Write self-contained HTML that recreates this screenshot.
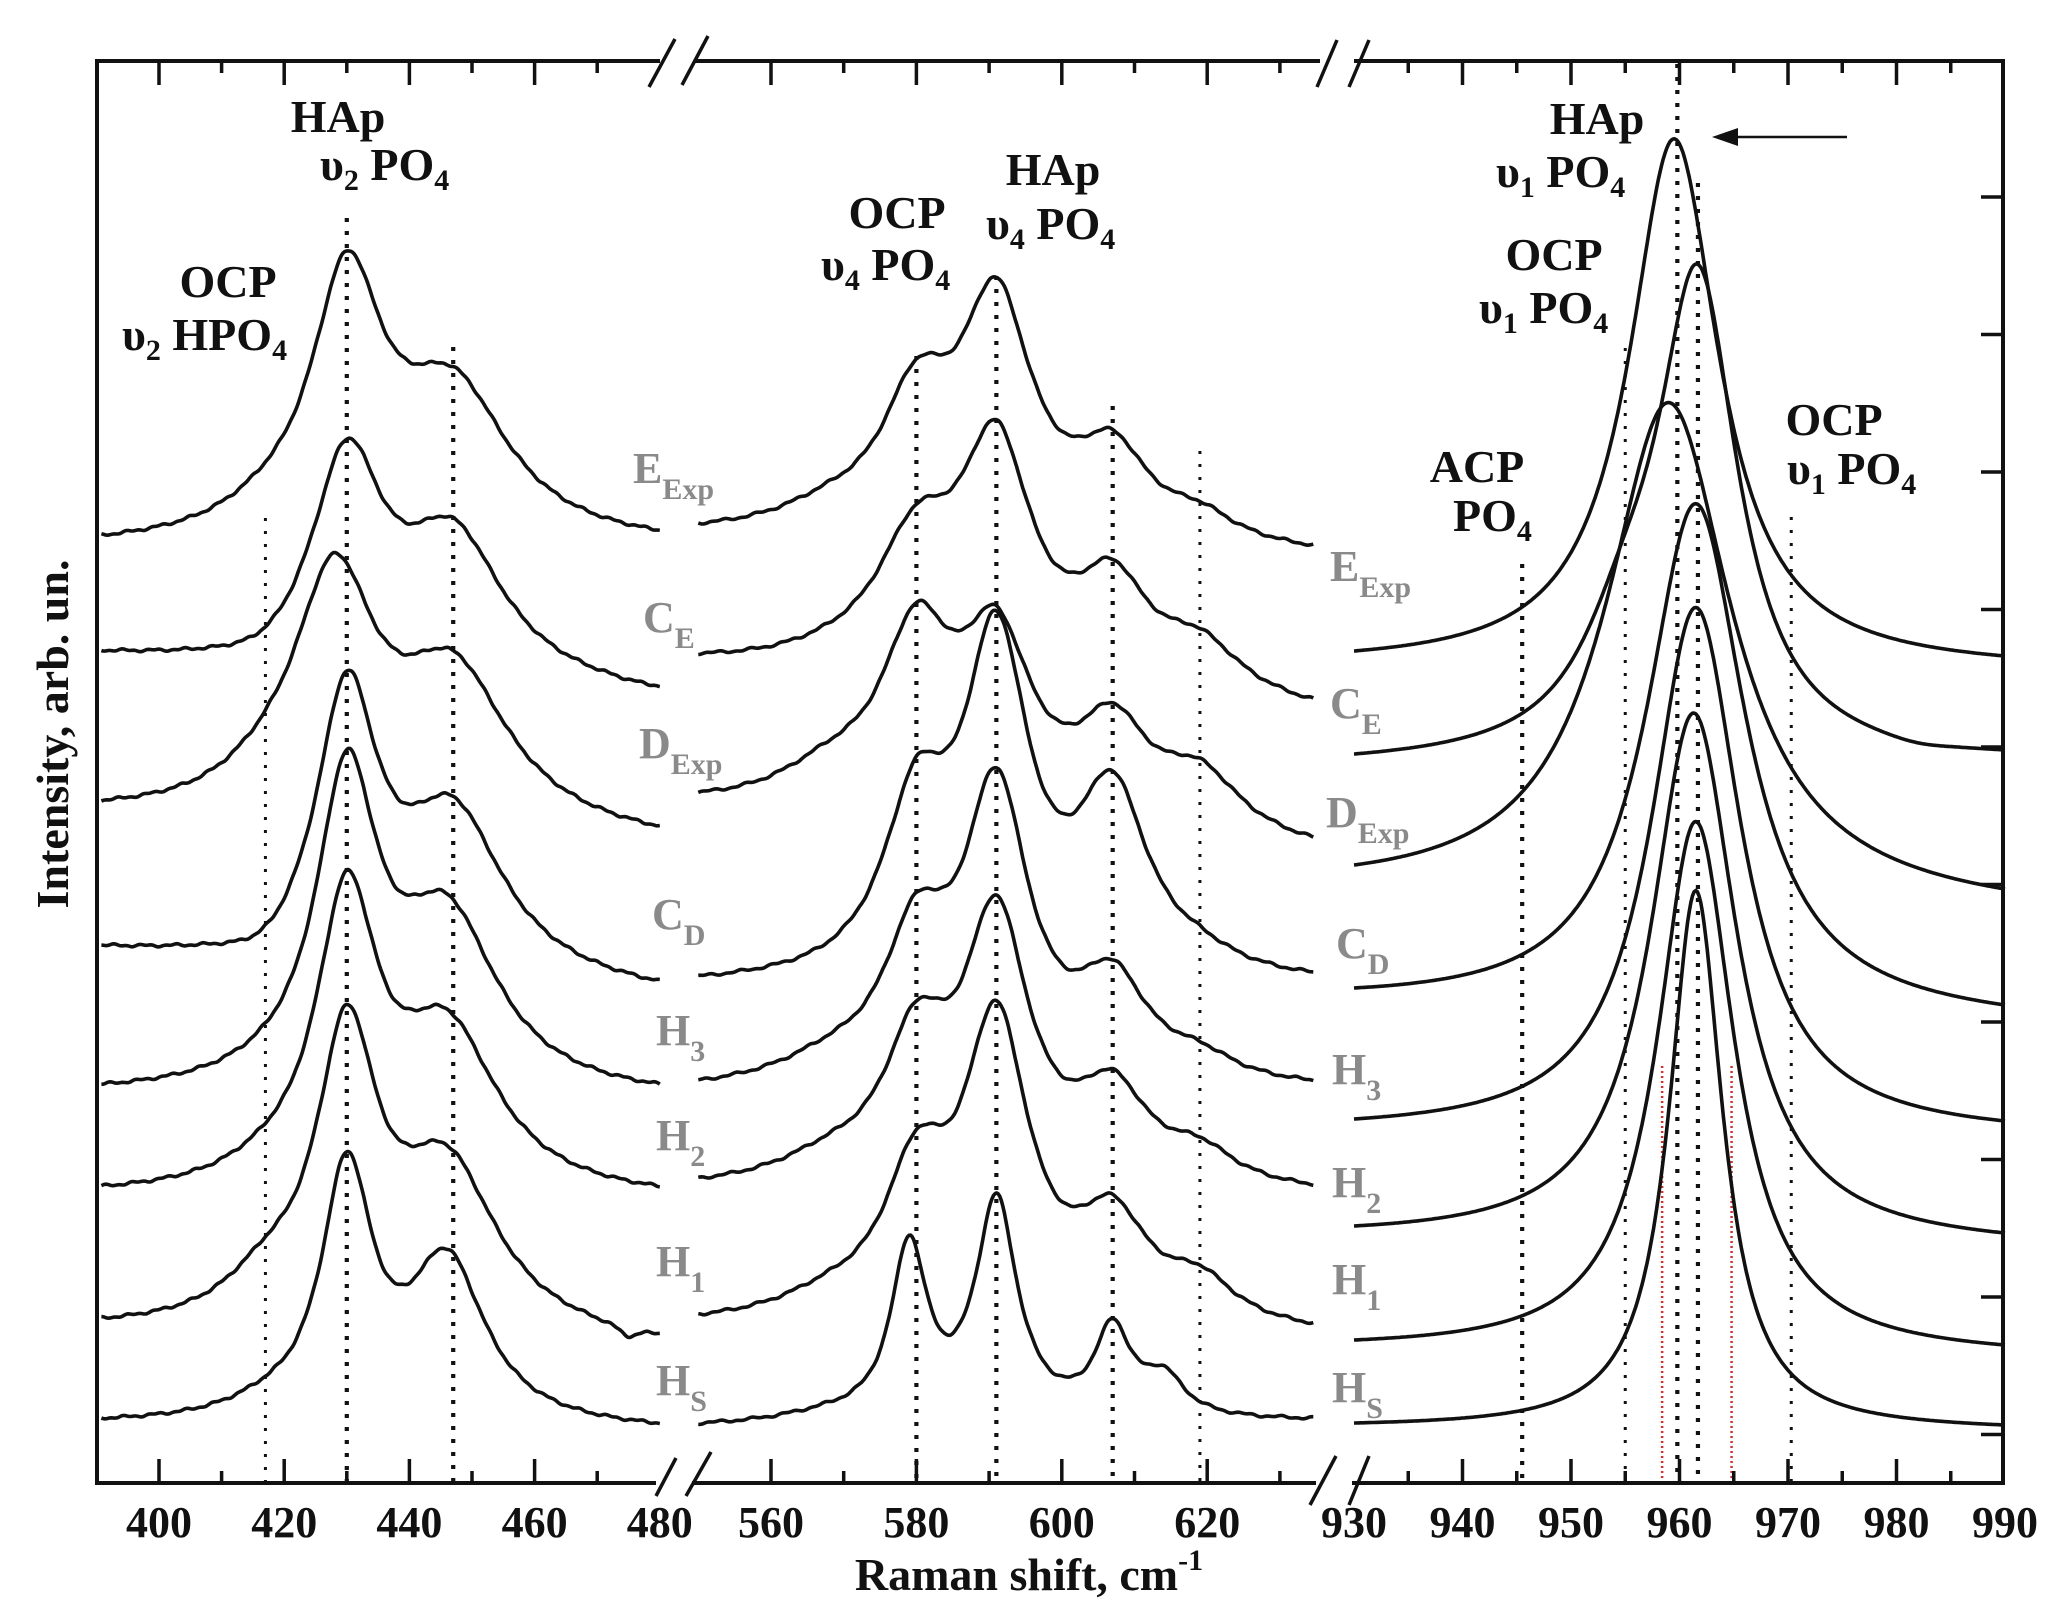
<!DOCTYPE html>
<html><head><meta charset="utf-8"><style>
html,body{margin:0;padding:0;background:#fff}
svg{display:block}
text{font-family:"Liberation Serif",serif;font-weight:bold}
.lab{font-size:46px;fill:#111}
.g{font-size:44px;fill:#8a8a8a}
.gs{font-size:30px;fill:#8a8a8a}
.tk{font-size:44px;fill:#111}
</style></head><body>
<svg id="s" width="2056" height="1612" viewBox="0 0 2056 1612" xmlns="http://www.w3.org/2000/svg">
<rect width="2056" height="1612" fill="#fff"/>
<g id="dots"></g>
<g id="curves" fill="none" stroke="#111" stroke-width="3.6" stroke-linejoin="round"></g>
<g id="axes" stroke="#111" stroke-width="4" fill="none"></g>
<text class="lab" x="338" y="132" text-anchor="middle">HAp</text>
<text class="lab" x="320" y="180">υ<tspan font-size="30" dy="10">2</tspan><tspan dy="-10"> PO</tspan><tspan font-size="30" dy="10">4</tspan></text>
<text class="lab" x="228" y="297" text-anchor="middle">OCP</text>
<text class="lab" x="122" y="350">υ<tspan font-size="30" dy="10">2</tspan><tspan dy="-10"> HPO</tspan><tspan font-size="30" dy="10">4</tspan></text>
<text class="lab" x="1053" y="185" text-anchor="middle">HAp</text>
<text class="lab" x="986" y="239">υ<tspan font-size="30" dy="10">4</tspan><tspan dy="-10"> PO</tspan><tspan font-size="30" dy="10">4</tspan></text>
<text class="lab" x="897" y="228" text-anchor="middle">OCP</text>
<text class="lab" x="821" y="280">υ<tspan font-size="30" dy="10">4</tspan><tspan dy="-10"> PO</tspan><tspan font-size="30" dy="10">4</tspan></text>
<text class="lab" x="1597" y="134" text-anchor="middle">HAp</text>
<text class="lab" x="1496" y="187">υ<tspan font-size="30" dy="10">1</tspan><tspan dy="-10"> PO</tspan><tspan font-size="30" dy="10">4</tspan></text>
<text class="lab" x="1554" y="270" text-anchor="middle">OCP</text>
<text class="lab" x="1479" y="323">υ<tspan font-size="30" dy="10">1</tspan><tspan dy="-10"> PO</tspan><tspan font-size="30" dy="10">4</tspan></text>
<text class="lab" x="1834" y="435" text-anchor="middle">OCP</text>
<text class="lab" x="1787" y="484">υ<tspan font-size="30" dy="10">1</tspan><tspan dy="-10"> PO</tspan><tspan font-size="30" dy="10">4</tspan></text>
<text class="lab" x="1477" y="482" text-anchor="middle">ACP</text>
<text class="lab" x="1453" y="531">PO<tspan font-size="30" dy="10">4</tspan></text>
<line x1="1847" y1="137" x2="1722" y2="137" stroke="#111" stroke-width="2.5"/>
<polygon points="1712,137 1738,128 1738,146" fill="#111"/>
<text class="g" x="633" y="483">E<tspan class="gs" dy="16">Exp</tspan></text>
<text class="g" x="643" y="632">C<tspan class="gs" dy="16">E</tspan></text>
<text class="g" x="639" y="758">D<tspan class="gs" dy="16">Exp</tspan></text>
<text class="g" x="652" y="929">C<tspan class="gs" dy="16">D</tspan></text>
<text class="g" x="656" y="1045">H<tspan class="gs" dy="16">3</tspan></text>
<text class="g" x="656" y="1150">H<tspan class="gs" dy="16">2</tspan></text>
<text class="g" x="656" y="1276">H<tspan class="gs" dy="16">1</tspan></text>
<text class="g" x="656" y="1395">H<tspan class="gs" dy="16">S</tspan></text>
<text class="g" x="1330" y="581">E<tspan class="gs" dy="16">Exp</tspan></text>
<text class="g" x="1330" y="718">C<tspan class="gs" dy="16">E</tspan></text>
<text class="g" x="1326" y="827">D<tspan class="gs" dy="16">Exp</tspan></text>
<text class="g" x="1336" y="958">C<tspan class="gs" dy="16">D</tspan></text>
<text class="g" x="1332" y="1084">H<tspan class="gs" dy="16">3</tspan></text>
<text class="g" x="1332" y="1197">H<tspan class="gs" dy="16">2</tspan></text>
<text class="g" x="1332" y="1294">H<tspan class="gs" dy="16">1</tspan></text>
<text class="g" x="1332" y="1402">H<tspan class="gs" dy="16">S</tspan></text>
<g id="ticklabels"></g>
<text class="lab" x="1029" y="1590" text-anchor="middle" font-size="48">Raman shift, cm<tspan font-size="30" dy="-20">-1</tspan></text>
<text class="lab" transform="translate(68,734) rotate(-90)" text-anchor="middle" font-size="48">Intensity, arb. un.</text>
</svg>
<script>
var NS="http://www.w3.org/2000/svg";
function el(p,tag,a){var e=document.createElementNS(NS,tag);for(var k in a)e.setAttribute(k,a[k]);p.appendChild(e);return e;}
var P=[{m:function(v){return 159+(v-400)*6.26},v0:390.8,v1:480},
       {m:function(v){return 771+(v-560)*7.27},v0:550,v1:634.6},
       {m:function(v){return 1354+(v-930)*10.85},v0:930,v1:990}];
function L(v,c,g){var d=(v-c)/g;return 1/(1+d*d);}
function solve(M,b){var n=b.length,A=M.map(function(r,i){return r.concat([b[i]])});
 for(var i=0;i<n;i++){var p=i;for(var r=i+1;r<n;r++)if(Math.abs(A[r][i])>Math.abs(A[p][i]))p=r;var t=A[i];A[i]=A[p];A[p]=t;
  for(var r=0;r<n;r++){if(r==i)continue;var f=A[r][i]/A[i][i];for(var c=i;c<=n;c++)A[r][c]-=f*A[i][c];}}
 return A.map(function(r,i){return r[n]/r[i]});}
var C=[
 [0,535,530,[[417,88,9],[430,299,7],[447,183,11]]],
 [0,650,686,[[417,45,9],[430,239,7],[447,167,10],[476,18,3]]],
 [0,800,826,[[417,116,9],[428,276,8],[447,185,11]]],
 [0,945,981,[[417,41,8],[430,303,6],[447,185,10]]],
 [0,1084,1084,[[417,75,8],[430,349,6],[446,206,10]]],
 [0,1186,1186,[[417,77,8],[430,329,6],[446,192,10]]],
 [0,1318,1333,[[417,101,8],[430,335,6],[446,198,10],[475,12,2]]],
 [0,1418,1423,[[417,52,8],[430,278,5],[446,182,7.5]]],
 [1,523,545,[[568,60,9],[580,186,6],[591,270,6],[607,121,6],[619,53,6]]],
 [1,653,699,[[568,55,9],[580,181,7],[591,271,6],[607,142,6],[619,80,7]]],
 [1,792,837,[[568,80,9],[580,224,6],[591,226,6],[607,139,6],[619,89,7]]],
 [1,976,972,[[568,48,9],[580,231,5.5],[591,378,5.5],[607,218,6],[619,62,6]]],
 [1,1080,1080,[[568,60,9],[580,201,5.5],[591,327,5.5],[607,134,6],[619,52,6]]],
 [1,1178,1184,[[568,60,9],[580,194,5.5],[591,300,5.5],[607,126,6],[619,60,6]]],
 [1,1314,1323,[[568,60,9],[580,203,5.5],[591,333,5.5],[607,140,6],[619,72,6]]],
 [1,1423,1418,[[568,25,9],[579,192,3],[591,232,3.5],[607,106,3],[614,58,3.5]]],
 [2,651,656,[[959.5,529,5]]],
 [2,754,750,[[955,232,5],[961.7,500,4.5],[982,20,4]]],
 [2,865,889,[[959,500,7]]],
 [2,988,1005,[[961.5,510,5.5]]],
 [2,1119,1121,[[961.5,527,5]]],
 [2,1226,1233,[[961.3,530,4.8]]],
 [2,1340,1345,[[961.5,532,4.3]]],
 [2,1423,1425,[[961.5,539,3]]]
];
var cg=document.getElementById("curves");
C.forEach(function(cv,ci){
 var p=P[cv[0]],pk=cv[3];
 var M=pk.map(function(a){return pk.map(function(b){return L(a[0],b[0],b[2])})});
 var amp=solve(M,pk.map(function(a){return a[1]}));
 function S(v){var s=0;for(var j=0;j<pk.length;j++)s+=amp[j]*L(v,pk[j][0],pk[j][2]);return s;}
 var s0=S(p.v0),s1=S(p.v1),d="",N=400;
 for(var i=0;i<=N;i++){var v=p.v0+(p.v1-p.v0)*i/N,t=i/N;
  var base=cv[1]+(cv[2]-cv[1])*t, corr=s0+(s1-s0)*t;
  var nz=(cv[0]<2)?(0.9*Math.sin(v*1.3+ci)+0.6*Math.sin(v*3.1+ci*2)):0;
  var y=base-(S(v)-corr)+nz;
  d+=(i?"L":"M")+p.m(v).toFixed(1)+" "+y.toFixed(1);}
 el(cg,"path",{d:d});
});
var dg=document.getElementById("dots");
[[0,417,518,0],[0,430,218,1],[0,447,347,1],[1,580,356,1],[1,591,276,1],[1,607,406,1],[1,619,451,0],
 [2,945.5,564,1],[2,955,348,0],[2,959.8,64,1],[2,961.7,183,1],[2,970.3,517,0]].forEach(function(d){
 var x=P[d[0]].m(d[1]);
 el(dg,"line",{x1:x,y1:d[2],x2:x,y2:1483,stroke:"#111","stroke-width":d[3]?4.2:3,"stroke-dasharray":d[3]?"4 9":"3 10"});});
[958.4,964.8].forEach(function(v){var x=P[2].m(v);el(dg,"line",{x1:x,y1:1066,x2:x,y2:1483,stroke:"#c33","stroke-width":2.5,"stroke-dasharray":"2 3"});});
var ax=document.getElementById("axes");
el(ax,"path",{d:"M660 61 L97 61 L97 1483 L656 1483 M692 1483 L1316 1483 M1352 1483 L2003 1483 L2003 61 L1354 61 M1320 61 L695 61"});
[[656,1496,676,1458],[686,1496,711,1452],[649,87,675,39],[682,85,708,36],
 [1310,1505,1336,1456],[1349,1505,1369,1456],[1317,87,1337,40],[1349,87,1369,40]].forEach(function(b){
 el(ax,"line",{x1:b[0],y1:b[1],x2:b[2],y2:b[3],"stroke-width":3.5});});
var tl=document.getElementById("ticklabels");
function ticks(pi,vals,maj,labs){vals.forEach(function(v){var x=P[pi].m(v),len=maj(v)?24:12;
 el(ax,"line",{x1:x,y1:1483,x2:x,y2:1483-len,"stroke-width":3.5});
 el(ax,"line",{x1:x,y1:61,x2:x,y2:61+len,"stroke-width":3.5});});
 labs.forEach(function(v){var t=el(tl,"text",{x:P[pi].m(v),y:1537,"text-anchor":"middle","class":"tk"});t.textContent=v;});}
ticks(0,[400,410,420,430,440,450,460,470],function(v){return v%20==0},[400,420,440,460,480]);
ticks(1,[560,570,580,590,600,610,620,630],function(v){return v%20==0},[560,580,600,620]);
ticks(2,[935,940,945,950,955,960,965,970,975,980,985],function(v){return v%10==0},[930,940,950,960,970,980,990]);
for(var k=0;k<10;k++){var y=197+137.5*k;el(ax,"line",{x1:2003,y1:y,x2:1981,y2:y,"stroke-width":3.5});}
</script>
</body></html>
